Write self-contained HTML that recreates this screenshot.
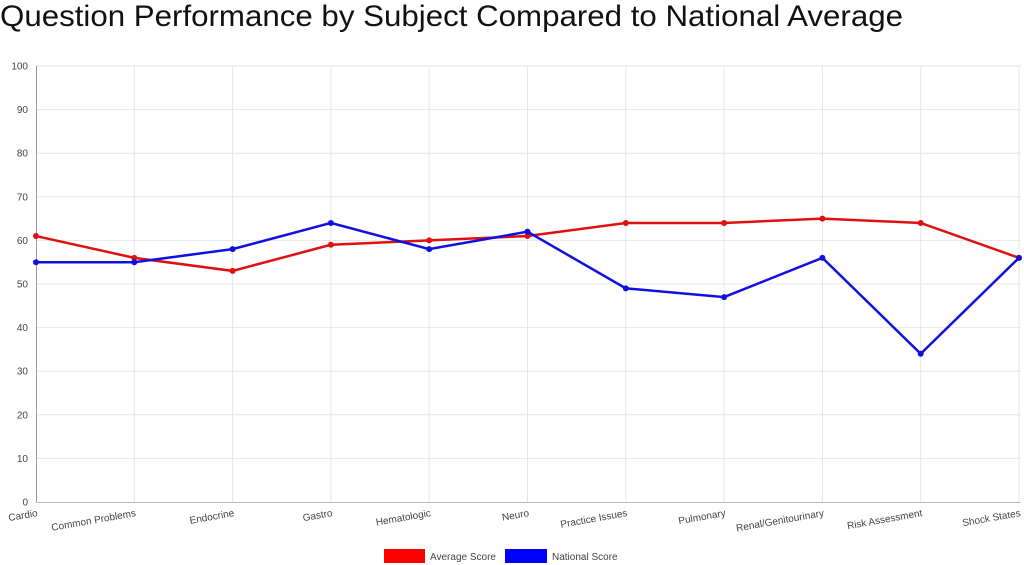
<!DOCTYPE html>
<html><head><meta charset="utf-8"><style>
html,body{margin:0;padding:0;background:#fff;}
svg{display:block;font-family:"Liberation Sans",sans-serif;}
</style></head><body>
<svg width="1024" height="565" viewBox="0 0 1024 565" xmlns="http://www.w3.org/2000/svg">
<text x="0" y="26" font-size="30" fill="#111" textLength="903" lengthAdjust="spacingAndGlyphs">Question Performance by Subject Compared to National Average</text>
<g stroke="#e6e6e6" stroke-width="1">
<line x1="36" y1="458.4" x2="1021" y2="458.4"/>
<line x1="36" y1="414.8" x2="1021" y2="414.8"/>
<line x1="36" y1="371.2" x2="1021" y2="371.2"/>
<line x1="36" y1="327.6" x2="1021" y2="327.6"/>
<line x1="36" y1="284" x2="1021" y2="284"/>
<line x1="36" y1="240.4" x2="1021" y2="240.4"/>
<line x1="36" y1="196.8" x2="1021" y2="196.8"/>
<line x1="36" y1="153.2" x2="1021" y2="153.2"/>
<line x1="36" y1="109.6" x2="1021" y2="109.6"/>
<line x1="36" y1="66" x2="1021" y2="66"/>
<line x1="134.3" y1="66" x2="134.3" y2="502"/>
<line x1="232.6" y1="66" x2="232.6" y2="502"/>
<line x1="330.9" y1="66" x2="330.9" y2="502"/>
<line x1="429.2" y1="66" x2="429.2" y2="502"/>
<line x1="527.5" y1="66" x2="527.5" y2="502"/>
<line x1="625.8" y1="66" x2="625.8" y2="502"/>
<line x1="724.1" y1="66" x2="724.1" y2="502"/>
<line x1="822.4" y1="66" x2="822.4" y2="502"/>
<line x1="920.7" y1="66" x2="920.7" y2="502"/>
<line x1="1019" y1="66" x2="1019" y2="502"/>
</g>
<g font-size="10" fill="#444" text-anchor="end">
<text x="28" y="505.5">0</text>
<text x="28" y="461.9">10</text>
<text x="28" y="418.3">20</text>
<text x="28" y="374.7">30</text>
<text x="28" y="331.1">40</text>
<text x="28" y="287.5">50</text>
<text x="28" y="243.9">60</text>
<text x="28" y="200.3">70</text>
<text x="28" y="156.7">80</text>
<text x="28" y="113.1">90</text>
<text x="28" y="69.5">100</text>
</g>
<g font-size="10" fill="#444" text-anchor="end">
<text x="38" y="516" transform="rotate(-10 38 516)">Cardio</text>
<text x="136.3" y="516" transform="rotate(-10 136.3 516)">Common Problems</text>
<text x="234.6" y="516" transform="rotate(-10 234.6 516)">Endocrine</text>
<text x="332.9" y="516" transform="rotate(-10 332.9 516)">Gastro</text>
<text x="431.2" y="516" transform="rotate(-10 431.2 516)">Hematologic</text>
<text x="529.5" y="516" transform="rotate(-10 529.5 516)">Neuro</text>
<text x="627.8" y="516" transform="rotate(-10 627.8 516)">Practice Issues</text>
<text x="726.1" y="516" transform="rotate(-10 726.1 516)">Pulmonary</text>
<text x="824.4" y="516" transform="rotate(-10 824.4 516)">Renal/Genitourinary</text>
<text x="922.7" y="516" transform="rotate(-10 922.7 516)">Risk Assessment</text>
<text x="1021" y="516" transform="rotate(-10 1021 516)">Shock States</text>
</g>
<line x1="36.5" y1="66" x2="36.5" y2="502" stroke="#999"/>
<line x1="36" y1="502.5" x2="1021" y2="502.5" stroke="#bbb"/>
<polyline fill="none" stroke="#e01010" stroke-width="2.5" points="36,236.04 134.3,257.84 232.6,270.92 330.9,244.76 429.2,240.4 527.5,236.04 625.8,222.96 724.1,222.96 822.4,218.6 920.7,222.96 1019,257.84"/>
<g fill="#e01010">
<circle cx="36" cy="236.04" r="3"/><circle cx="134.3" cy="257.84" r="3"/><circle cx="232.6" cy="270.92" r="3"/><circle cx="330.9" cy="244.76" r="3"/><circle cx="429.2" cy="240.4" r="3"/><circle cx="527.5" cy="236.04" r="3"/><circle cx="625.8" cy="222.96" r="3"/><circle cx="724.1" cy="222.96" r="3"/><circle cx="822.4" cy="218.6" r="3"/><circle cx="920.7" cy="222.96" r="3"/><circle cx="1019" cy="257.84" r="3"/>
</g>
<polyline fill="none" stroke="#1010e0" stroke-width="2.5" points="36,262.2 134.3,262.2 232.6,249.12 330.9,222.96 429.2,249.12 527.5,231.68 625.8,288.36 724.1,297.08 822.4,257.84 920.7,353.76 1019,257.84"/>
<g fill="#1010e0">
<circle cx="36" cy="262.2" r="3"/><circle cx="134.3" cy="262.2" r="3"/><circle cx="232.6" cy="249.12" r="3"/><circle cx="330.9" cy="222.96" r="3"/><circle cx="429.2" cy="249.12" r="3"/><circle cx="527.5" cy="231.68" r="3"/><circle cx="625.8" cy="288.36" r="3"/><circle cx="724.1" cy="297.08" r="3"/><circle cx="822.4" cy="257.84" r="3"/><circle cx="920.7" cy="353.76" r="3"/><circle cx="1019" cy="257.84" r="3"/>
</g>
<rect x="384" y="549" width="41" height="14" fill="#ff0000"/>
<text x="430" y="560" font-size="10" fill="#444">Average Score</text>
<rect x="505" y="549" width="42" height="14" fill="#0000ff"/>
<text x="552" y="560" font-size="10" fill="#444">National Score</text>
</svg>
</body></html>
